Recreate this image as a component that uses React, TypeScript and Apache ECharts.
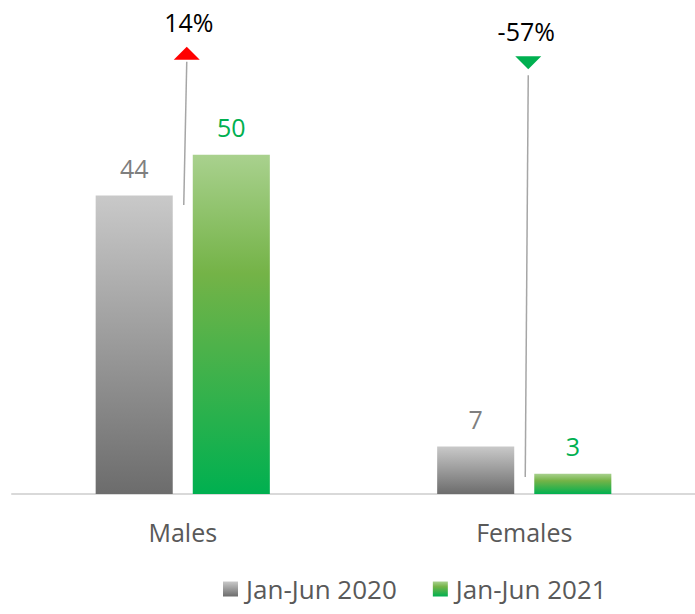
import React, { useEffect, useRef } from "react";
import * as echarts from "echarts";

const categories = ["Males", "Females"];
const seriesNames = ["Jan-Jun 2020", "Jan-Jun 2021"];
const values2020 = [44, 7];
const values2021 = [50, 3];
const changeLabels = ["14%", "-57%"];
const changeUp = [true, false];
const lineBottom = [42.6, 2.5];
const lineTop = [63.7, 61.7];

const FONT = "Open Sans";
const FS = 25;

export default function App() {
  const ref = useRef<HTMLDivElement>(null);
  useEffect(() => {
    if (!ref.current) return;
    const chart = echarts.init(ref.current, null, { renderer: "svg" });
    const grayGrad = new echarts.graphic.LinearGradient(0, 0, 0, 1, [
      { offset: 0, color: "#c9c9c9" },
      { offset: 1, color: "#6c6c6c" },
    ]);
    const greenGrad = new echarts.graphic.LinearGradient(0, 0, 0, 1, [
      { offset: 0, color: "#a9d18e" },
      { offset: 0.35, color: "#74b347" },
      { offset: 1, color: "#00b050" },
    ]);
    const annData = categories.map((c, i) => [i, lineBottom[i], lineTop[i], changeLabels[i], changeUp[i] ? 1 : 0]);
    chart.setOption({
      animation: false,
      grid: { left: 12, right: 0, top: 19, bottom: 120, containLabel: false },
      legend: {
        data: seriesNames.map((n) => ({ name: n, icon: "rect" })),
        left: 223,
        top: 576,
        padding: 0,
        itemWidth: 15,
        itemHeight: 15,
        itemGap: 36,
        textStyle: { fontFamily: FONT, fontSize: 26, color: "#595959", padding: [0, 0, 0, 3] },
      },
      xAxis: {
        type: "category",
        data: categories,
        axisLine: { lineStyle: { color: "#d9d9d9", width: 2 } },
        axisTick: { show: false },
        axisLabel: { fontFamily: FONT, fontSize: FS, color: "#595959", margin: 25 },
      },
      yAxis: { type: "value", min: 0, max: 70, show: false, splitLine: { show: false } },
      series: [
        {
          name: seriesNames[0],
          type: "bar",
          data: values2020,
          barGap: "26%",
          barCategoryGap: "49%",
          itemStyle: { color: grayGrad },
          label: { show: true, position: "top", distance: 15, fontFamily: FONT, fontSize: FS, color: "#7f7f7f" },
        },
        {
          name: seriesNames[1],
          type: "bar",
          data: values2021,
          itemStyle: { color: greenGrad },
          label: { show: true, position: "top", distance: 15, fontFamily: FONT, fontSize: FS, color: "#00b050" },
        },
        {
          type: "custom",
          data: annData,
          silent: true,
          renderItem: (params: any, api: any) => {
            const cat = api.value(0);
            const b = api.coord([cat, api.value(1)]);
            const t = api.coord([cat, api.value(2)]);
            const up = api.value(4) === 1;
            const label = changeLabels[params.dataIndex];
            const cx = t[0] + 4;
            const ty = t[1];
            let tri: number[][];
            let textY: number;
            if (up) {
              tri = [[cx - 13, ty - 2], [cx + 13, ty - 2], [cx, ty - 15]];
              textY = ty - 40;
            } else {
              tri = [[cx - 13, ty - 19], [cx + 13, ty - 19], [cx, ty - 6]];
              textY = ty - 44;
            }
            return {
              type: "group",
              children: [
                {
                  type: "line",
                  shape: { x1: b[0] + 1, y1: b[1], x2: cx, y2: ty },
                  style: { stroke: "#a6a6a6", lineWidth: 1.5 },
                },
                {
                  type: "polygon",
                  shape: { points: tri },
                  style: { fill: up ? "#ff0000" : "#00b050" },
                },
                {
                  type: "text",
                  x: cx + (up ? 2 : -2),
                  y: textY,
                  style: {
                    text: label,
                    fontFamily: FONT,
                    fontSize: FS,
                    fill: "#000000",
                    align: "center",
                    verticalAlign: "middle",
                  },
                },
              ],
            };
          },
        },
      ],
    });
    return () => chart.dispose();
  }, []);
  return <div ref={ref} style={{ width: 695, height: 614, position: "absolute", left: 0, top: 0 }} />;
}
